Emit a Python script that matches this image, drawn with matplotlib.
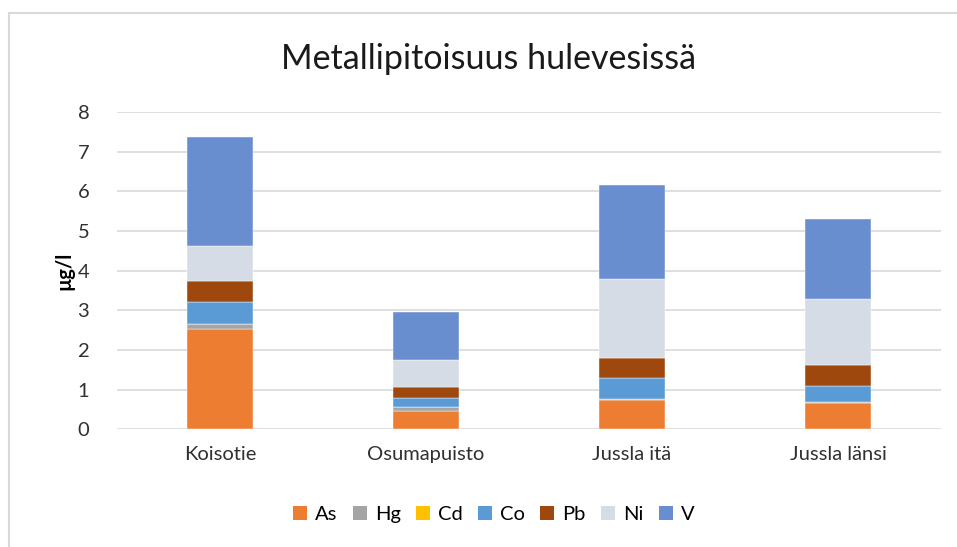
import matplotlib
matplotlib.use("Agg")
import matplotlib.pyplot as plt
from matplotlib.patches import Patch
from matplotlib.lines import Line2D
import numpy as np

plt.rcParams['font.family'] = ['Lato', 'DejaVu Sans']

sites = ["Koisotie", "Osumapuisto", "Jussla itä", "Jussla länsi"]
metals = ["As", "Hg", "Cd", "Co", "Pb", "Ni", "V"]
As = [2.52, 0.45, 0.75, 0.66]
Hg = [0.13, 0.10, 0.02, 0.02]
Cd = [0.0, 0.0, 0.0, 0.0]
Co = [0.55, 0.25, 0.52, 0.41]
Pb = [0.54, 0.26, 0.52, 0.53]
Ni = [0.88, 0.68, 1.98, 1.67]
V = [2.75, 1.23, 2.38, 2.01]
series = [As, Hg, Cd, Co, Pb, Ni, V]
colors = ["#ED7D31", "#A5A5A5", "#FFC000", "#5B9BD5", "#9E480E", "#D6DCE5", "#698ED0"]

fig = plt.figure(figsize=(9.57, 5.47), dpi=100)
ax = fig.add_axes([0.1223, 0.2152, 0.861, 0.58])

x = np.arange(len(sites))
bottom = np.zeros(len(sites))
for vals, c in zip(series, colors):
    ax.bar(x, vals, 0.32, bottom=bottom, color=c, edgecolor="white", linewidth=0.3, zorder=3)
    bottom += np.array(vals)

ax.set_xlim(-0.5, 3.5)
ax.set_ylim(0, 8)
ax.set_yticks(range(0, 9))
ax.set_xticks(x)
ax.set_xticklabels(sites, fontsize=14.5, color="#303030")
ax.tick_params(axis="y", labelsize=14.5, labelcolor="#303030", length=0, pad=20)
ax.tick_params(axis="x", length=0, pad=12)
ax.grid(axis="y", color="#D9D9D9", linewidth=1.2, zorder=0)
for s in ax.spines.values():
    s.set_visible(False)
ax.set_ylabel("µg/l", fontsize=14.5, fontweight="bold", labelpad=2)

fig.text(0.51, 0.893, "Metallipitoisuus hulevesissä", ha="center", va="center",
         fontsize=24.5, color="#1a1a1a")

handles = [Patch(facecolor=c, edgecolor="none") for c in colors]
fig.legend(handles, metals, loc="center", bbox_to_anchor=(0.516, 0.06), ncol=7,
           frameon=False, fontsize=14.5, handlelength=0.7, handleheight=0.7,
           handletextpad=0.4, columnspacing=0.75)

# chart border (top and left visible)
fig.add_artist(Line2D([0.0094, 1.0], [1 - 13 / 547, 1 - 13 / 547], transform=fig.transFigure,
                      color="#D9D9D9", linewidth=1.5))
fig.add_artist(Line2D([0.0094, 0.0094], [0.0, 1 - 13 / 547], transform=fig.transFigure,
                      color="#D9D9D9", linewidth=1.5))

fig.savefig("out.png", dpi=100)
